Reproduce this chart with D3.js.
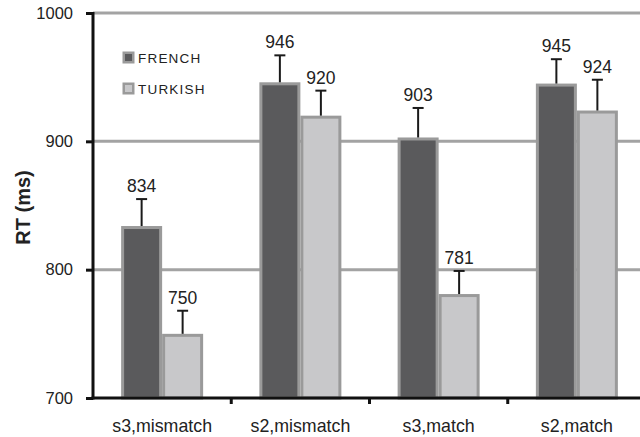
<!DOCTYPE html>
<html>
<head>
<meta charset="utf-8">
<script src="https://cdn.jsdelivr.net/npm/d3@7"></script>
<style>
  html, body { margin: 0; padding: 0; background: #fff; }
  svg { display: block; font-family: "Liberation Sans", Arial, sans-serif; }
</style>
</head>
<body>
<svg id="chart" width="640" height="437"></svg>
<script>
// Reaction times by condition and language group
const categories = ["s3,mismatch", "s2,mismatch", "s3,match", "s2,match"];
const seriesNames = ["FRENCH", "TURKISH"];
const frenchRT = [834, 946, 903, 945];
const turkishRT = [750, 920, 781, 924];
const frenchErr = [21, 21, 23, 19];
const turkishErr = [18, 19.5, 18, 24];
const yTicks = [700, 800, 900, 1000];

const fills = ["#5a5a5c", "#c8c8ca"];
const borderColor = "#9a9a9a";
const FONT = "Liberation Sans, Arial, sans-serif";

const svg = d3.select("#chart");
const margin = { left: 93, top: 13, right: -6, bottom: 39 };
const W = 640, H = 437;
const plotW = W - margin.left - margin.right;
const y0 = H - margin.bottom; // baseline of the value axis

const x = d3.scaleBand().domain(categories).range([margin.left, margin.left + plotW]).paddingInner(0).paddingOuter(0);
const xs = d3.scaleBand().domain(seriesNames).range([0, 82]);
const y = d3.scaleLinear().domain([700, 1000]).range([y0, margin.top]);

// gridlines
svg.append("g").selectAll("line").data(yTicks.slice(1)).join("line")
  .attr("x1", margin.left).attr("x2", W)
  .attr("y1", d => y(d)).attr("y2", d => y(d))
  .attr("stroke", "#a3a3a3").attr("stroke-width", 3);

const rows = categories.map((c, i) => [
  { cat: c, s: seriesNames[0], v: frenchRT[i], e: frenchErr[i], k: 0 },
  { cat: c, s: seriesNames[1], v: turkishRT[i], e: turkishErr[i], k: 1 }
]).flat();

const groupOffset = (x.bandwidth() - 82) / 2;
const bx = d => x(d.cat) + groupOffset + xs(d.s);

// bars
svg.append("g").selectAll("rect").data(rows).join("rect")
  .attr("x", d => bx(d) + 1.5)
  .attr("y", d => y(d.v) + 1.5)
  .attr("width", xs.bandwidth() - 3)
  .attr("height", d => y0 - y(d.v) - 1.5)
  .attr("fill", d => fills[d.k])
  .attr("stroke", borderColor).attr("stroke-width", 3);

// error bars (upper only)
const eb = svg.append("g").attr("stroke", "#1a1a1a").attr("stroke-width", 2);
eb.selectAll("line.v").data(rows).join("line").attr("class", "v")
  .attr("x1", d => bx(d) + xs.bandwidth() / 2).attr("x2", d => bx(d) + xs.bandwidth() / 2)
  .attr("y1", d => y(d.v)).attr("y2", d => y(d.v + d.e));
eb.selectAll("line.c").data(rows).join("line").attr("class", "c")
  .attr("x1", d => bx(d) + xs.bandwidth() / 2 - 5.5).attr("x2", d => bx(d) + xs.bandwidth() / 2 + 5.5)
  .attr("y1", d => y(d.v + d.e)).attr("y2", d => y(d.v + d.e));

// value labels
svg.append("g").selectAll("text").data(rows).join("text")
  .attr("x", d => bx(d) + xs.bandwidth() / 2)
  .attr("y", d => y(d.v + d.e) - 7)
  .attr("text-anchor", "middle")
  .attr("font-size", 17.5).attr("fill", "#222")
  .text(d => d.v);

// y axis
const yAxis = d3.axisLeft(y).tickValues(yTicks).tickFormat(d3.format("d")).tickSize(7).tickPadding(13);
const ya = svg.append("g").attr("transform", `translate(${margin.left},0)`).call(yAxis);
ya.select(".domain").attr("stroke", "#111").attr("stroke-width", 3).attr("d", `M0,${margin.top - 1}V${y0 + 1.5}`);
ya.selectAll(".tick line").attr("stroke", "#111").attr("stroke-width", 3);
ya.selectAll(".tick text").attr("font-size", 16.5).attr("fill", "#222").attr("font-family", FONT);

// x axis
const xAxis = d3.axisBottom(x).tickSize(0).tickPadding(21);
const xa = svg.append("g").attr("transform", `translate(0,${y0})`).call(xAxis);
xa.select(".domain").attr("stroke", "#111").attr("stroke-width", 3).attr("d", `M${margin.left - 1.5},0H${W}`);
xa.selectAll(".tick text").attr("font-size", 17.8).attr("fill", "#222").attr("font-family", FONT);
// category separators
xa.append("g").selectAll("line").data(categories.slice(1)).join("line")
  .attr("x1", d => x(d)).attr("x2", d => x(d))
  .attr("y1", 0).attr("y2", 6)
  .attr("stroke", "#111").attr("stroke-width", 3);

// y axis title
svg.append("text")
  .attr("transform", `translate(30,${(margin.top + y0) / 2 + 2}) rotate(-90)`)
  .attr("text-anchor", "middle")
  .attr("font-size", 20).attr("font-weight", "bold").attr("fill", "#222")
  .text("RT (ms)");

// legend
const lg = svg.append("g").attr("transform", "translate(123,52)");
const li = lg.selectAll("g").data(seriesNames).join("g")
  .attr("transform", (d, i) => `translate(0,${i * 31})`);
li.append("rect").attr("x", 0.75).attr("y", 0.75).attr("width", 9.5).attr("height", 9.5)
  .attr("fill", (d, i) => fills[i]).attr("stroke", borderColor).attr("stroke-width", 2.5);
li.append("text").attr("x", 15).attr("y", 10.5)
  .attr("font-size", 13.5).attr("letter-spacing", 1.2).attr("fill", "#222")
  .text(d => d);
</script>
</body>
</html>
